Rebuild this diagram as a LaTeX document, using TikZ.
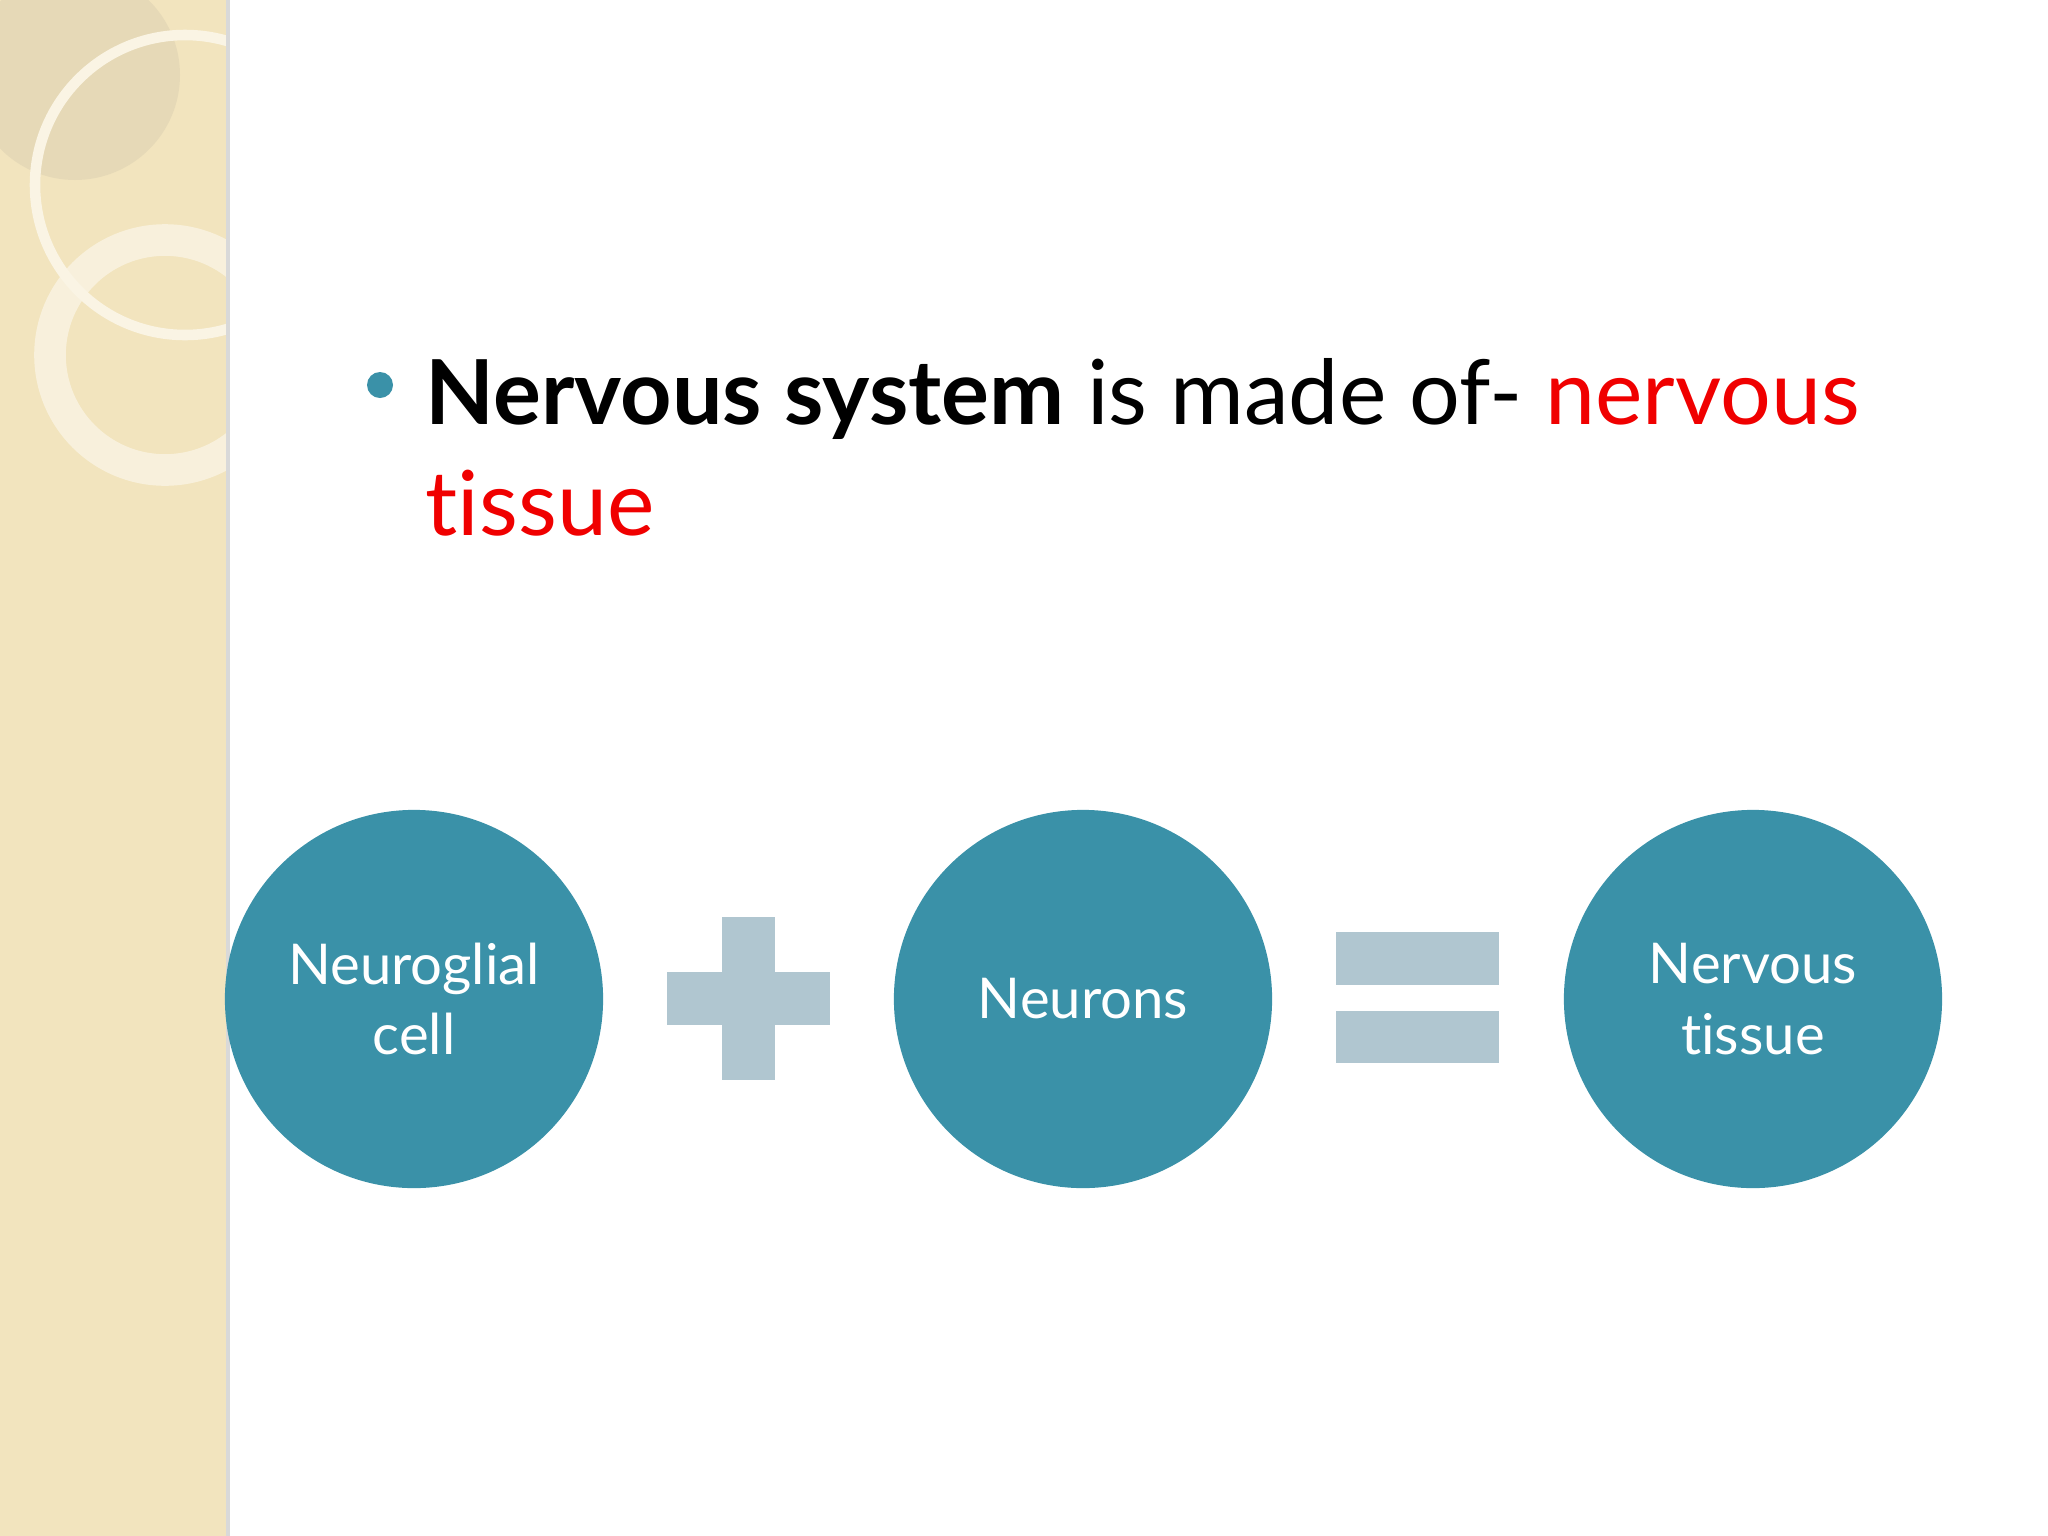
\documentclass[tikz,border=0pt]{standalone}
\usepackage{fontspec}
\setmainfont{Lato}[Ligatures={NoCommon,NoRare,NoDiscretionary}]
\definecolor{teal}{RGB}{58,145,168}
\definecolor{steel}{RGB}{176,198,208}
\definecolor{sand}{RGB}{242,228,190}
\definecolor{ring}{RGB}{250,244,228}
\definecolor{hired}{RGB}{240,0,0}
\tikzset{
  part/.style={circle, fill=teal, minimum size=3.78cm, text=white, align=center, font=\fontsize{16}{20}\selectfont},
  bar/.style={fill=steel}
}
\begin{document}
\begin{tikzpicture}[x=0.01cm, y=-0.01cm]
  \useasboundingbox (0,0) rectangle (2048,1536);
  \fill[white] (0,0) rectangle (2048,1536);
  %% left strip
  \fill[sand] (0,0) rectangle (226,1536);
  \begin{scope}
    \clip (0,0) rectangle (226,1536);
    \fill[sand!80!gray, opacity=0.5] (75,75) circle (105);
    \draw[ring, line width=3pt] (185,185) circle (150);
    \draw[ring, line width=9pt, opacity=0.8] (165,355) circle (115);
  \end{scope}
  \fill[black!15] (226,0) rectangle (230,1536);
  %% heading
  \fill[teal] (380,385) circle (13);
  \node[anchor=base west, inner sep=0, font=\fontsize{25.5}{30}\selectfont] (head) at (425,424)
    {\textbf{Nervous system} is made of- \textcolor{hired}{nervous}};
  \node[anchor=base west, inner sep=0, font=\fontsize{25.5}{30}\selectfont, text=hired] (head2) at (425,535) {tissue};
  %% circles
  \node[part] (glia) at (414,999) {Neuroglial\\cell};
  \node[part] (neur) at (1083,999) {Neurons};
  \node[part] (tiss) at (1753,999) {Nervous\\tissue};
  %% plus
  \fill[bar] (722,917) rectangle (775,1080);
  \fill[bar] (667,972) rectangle (830,1025);
  %% equals
  \fill[bar] (1336,932) rectangle (1499,985);
  \fill[bar] (1336,1011) rectangle (1499,1063);
\end{tikzpicture}
\end{document}
